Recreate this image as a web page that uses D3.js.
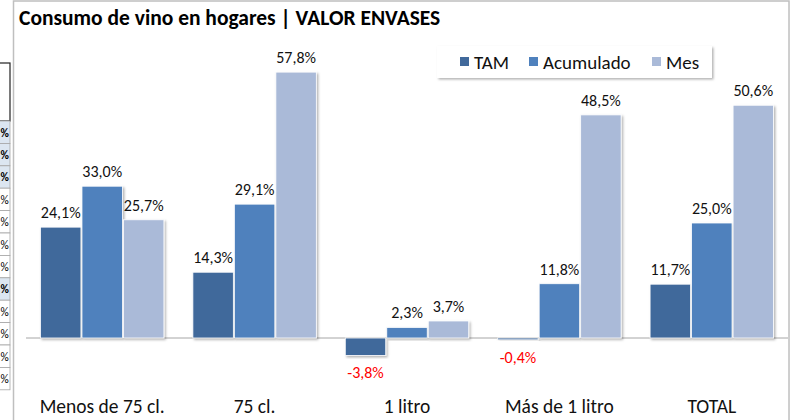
<!DOCTYPE html>
<html>
<head>
<meta charset="utf-8">
<script src="https://cdn.jsdelivr.net/npm/d3@7"></script>
<style>
  body { margin: 0; background: #fff; }
  svg { display: block; font-family: Calibri, Carlito, Lato, "Open Sans", sans-serif; }
</style>
</head>
<body>
<div id="chart"></div>
<script>
// Consumo de vino en hogares - valor envases
const width = 792
const height = 420

const categories = ['Menos de 75 cl.', '75 cl.', '1 litro', 'Más de 1 litro', 'TOTAL']
const seriesNames = ['TAM', 'Acumulado', 'Mes']
const tam = [24.1, 14.3, -3.8, -0.4, 11.7]
const acumulado = [33.0, 29.1, 2.3, 11.8, 25.0]
const mes = [25.7, 57.8, 3.7, 48.5, 50.6]
const colors = ['#41699B', '#4F81BD', '#AABAD8']

// cut-off table at the left edge (only the "%" ends are visible)
const tableRows = ['%', '%', '%', '%', '%', '%', '%', '%', '%', '%', '%', '%']
const tableBold = [true, true, true, false, false, false, false, true, false, false, false, false]

const seriesValues = [tam, acumulado, mes]
const data = categories.map((c, i) => ({
    cat: c,
    vals: seriesNames.map((s, j) => ({ series: s, value: seriesValues[j][i] }))
}))

const locale = d3.formatLocale({ decimal: ',', thousands: '.', grouping: [3], currency: ['', '€'], minus: '-' })
const fmt = v => locale.format('.1f')(v) + '%'

const svg = d3.select('#chart')
    .append('svg')
    .attr('width', width)
    .attr('height', height)

const defs = svg.append('defs')
defs.append('filter')
    .attr('id', 'shadow')
    .attr('x', '-20%').attr('y', '-20%').attr('width', '140%').attr('height', '140%')
    .append('feDropShadow')
    .attr('dx', 1.5).attr('dy', 1.5).attr('stdDeviation', 1)
    .attr('flood-color', '#000').attr('flood-opacity', 0.3)

// left table fragment
const rowH = 22.4
const tableTop = 121
svg.append('rect')
    .attr('x', -5).attr('y', 63).attr('width', 15).attr('height', tableTop - 63)
    .attr('fill', '#fff').attr('stroke', '#222').attr('stroke-width', 1.2)

const rows = svg.append('g').selectAll('g')
    .data(tableRows)
    .join('g')
    .attr('transform', (d, i) => `translate(0,${tableTop + i * rowH})`)
rows.append('rect')
    .attr('x', -5).attr('width', 15).attr('height', rowH)
    .attr('fill', (d, i) => tableBold[i] ? '#DCE6F1' : '#fff')
    .attr('stroke', '#A6A6A6').attr('stroke-width', 0.8)
rows.append('text')
    .attr('x', 0.5).attr('y', rowH / 2 + 4.5)
    .attr('text-anchor', 'start')
    .attr('font-size', 11.5)
    .attr('font-weight', (d, i) => tableBold[i] ? 'bold' : 'normal')
    .text(d => d)

// chart frame
svg.append('rect')
    .attr('x', 13.5).attr('y', 1).attr('width', 775.5).attr('height', height + 10)
    .attr('fill', '#fff').attr('stroke', '#BFBFBF').attr('stroke-width', 1.5)

svg.append('text')
    .attr('x', 19).attr('y', 25)
    .attr('font-size', 21.5).attr('font-weight', 'bold')
    .text('Consumo de vino en hogares | VALOR ENVASES')

const x0 = d3.scaleBand()
    .domain(categories)
    .range([26, 788])
    .paddingInner(0.19)
    .paddingOuter(0.095)

const x1 = d3.scaleBand()
    .domain(seriesNames)
    .range([0, x0.bandwidth()])
    .paddingInner(0.025)

const y = d3.scaleLinear()
    .domain([-5, 60])
    .range([361, 62])

const color = d3.scaleOrdinal().domain(seriesNames).range(colors)

// zero line
svg.append('line')
    .attr('x1', 26).attr('x2', 788)
    .attr('y1', y(0)).attr('y2', y(0))
    .attr('stroke', '#A6A6A6').attr('stroke-width', 1)

const groups = svg.append('g')
    .selectAll('g')
    .data(data)
    .join('g')
    .attr('transform', d => `translate(${x0(d.cat)},0)`)

groups.selectAll('rect')
    .data(d => d.vals)
    .join('rect')
    .attr('x', d => x1(d.series))
    .attr('width', x1.bandwidth())
    .attr('y', d => y(Math.max(0, d.value)))
    .attr('height', d => Math.abs(y(d.value) - y(0)))
    .attr('fill', d => color(d.series))
    .attr('stroke', '#fff').attr('stroke-width', 0.8)
    .attr('filter', 'url(#shadow)')

groups.selectAll('text')
    .data(d => d.vals)
    .join('text')
    .attr('x', d => x1(d.series) + x1.bandwidth() / 2)
    .attr('y', d => d.value >= 0 ? y(d.value) - 9 : y(d.value) + 23)
    .attr('text-anchor', 'middle')
    .attr('font-size', 16)
    .attr('fill', d => d.value < 0 ? '#FF0000' : '#111')
    .text(d => fmt(d.value))

// category labels
svg.append('g')
    .selectAll('text')
    .data(categories)
    .join('text')
    .attr('x', d => x0(d) + x0.bandwidth() / 2)
    .attr('y', 413)
    .attr('text-anchor', 'middle')
    .attr('font-size', 19.5)
    .attr('fill', '#111')
    .text(d => d)

// legend
const legend = svg.append('g').attr('transform', 'translate(437,46)')
legend.append('rect')
    .attr('width', 275).attr('height', 32)
    .attr('fill', '#fff')
    .attr('filter', 'url(#shadow)')
const legendX = [23, 92, 215]
const item = legend.selectAll('g')
    .data(seriesNames)
    .join('g')
    .attr('transform', (d, i) => `translate(${legendX[i]},0)`)
item.append('rect')
    .attr('y', 11).attr('width', 9).attr('height', 9)
    .attr('fill', d => color(d))
item.append('text')
    .attr('x', 14).attr('y', 23)
    .attr('font-size', 19)
    .attr('fill', '#111')
    .text(d => d)
</script>
</body>
</html>
